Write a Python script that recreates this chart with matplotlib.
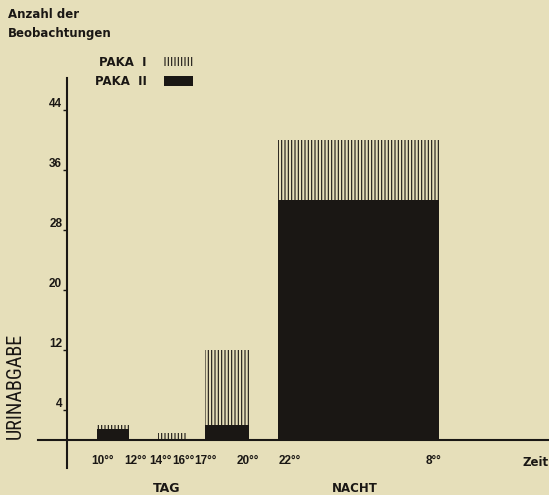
import matplotlib
matplotlib.use('Agg')
import matplotlib.pyplot as plt
from matplotlib.patches import Patch
from matplotlib import font_manager

# data
periods = ['10-12', '14-16', '17-20', '22-8']
paka2 = [1.5, 0, 2, 32]            # black part (bottom)
paka1 = [0.5, 1, 10, 8]            # hatched part (on top)
time_labels = ['10°°', '12°°', '14°°', '16°°', '17°°', '20°°', '22°°', '8°°']
yticks = [4, 12, 20, 28, 36, 44]

# layout (x in pixel-like units of the 549 px wide figure)
bar_left = [97, 158, 205, 278]
bar_right = [129, 186, 249, 439]
time_pos = [103, 135, 160, 183, 205, 248, 290, 433]
px_per_unit = 7.5                  # vertical scale: 7.5 px per observation
base_px = 440                      # pixel row of the zero line

bg = '#e6dfba'
ink = '#1a1714'
wide = ['DejaVu Sans']             # wider face for the spaced-out captions
plt.rcParams['hatch.linewidth'] = 0.8
plt.rcParams['font.family'] = ['Liberation Sans', 'DejaVu Sans']

# a narrow face for the vertical label, if one is there
names = set(f.name for f in font_manager.fontManager.ttflist)
narrow = 'Liberation Sans'
for cand in ['Liberation Sans Narrow', 'DejaVu Sans Condensed', 'Roboto Condensed']:
    if cand in names:
        narrow = cand
        break

fig = plt.figure(figsize=(5.49, 4.95), dpi=100, facecolor=bg)
ax = fig.add_axes([0, 0, 1, 1])
ax.set_facecolor(bg)
ax.set_xlim(0, 549)
ax.set_ylim(-(495 - base_px) / px_per_unit, base_px / px_per_unit)

widths = [r - l for l, r in zip(bar_left, bar_right)]
ax.bar(bar_left, paka2, width=widths, align='edge', color=ink, linewidth=0)
ax.bar(bar_left, paka1, width=widths, bottom=paka2, align='edge',
       facecolor='none', edgecolor=ink, hatch='|||||', linewidth=0)

# axes lines
for s in ['top', 'right']:
    ax.spines[s].set_visible(False)
ax.spines['left'].set_position(('data', 67))
ax.spines['left'].set_bounds((base_px - 468) / px_per_unit, (base_px - 78) / px_per_unit)
ax.spines['bottom'].set_position(('data', 0))
ax.spines['bottom'].set_bounds(38, 549)
for s in ['left', 'bottom']:
    ax.spines[s].set_linewidth(1.5)
    ax.spines[s].set_color(ink)

ax.set_yticks(yticks)
ax.set_yticklabels([str(v) for v in yticks], fontsize=8.5, fontweight='bold', color=ink)
for lab in ax.get_yticklabels():
    lab.set_verticalalignment('bottom')
ax.tick_params(axis='y', direction='out', length=3, width=1, pad=0.5, color=ink)

ax.set_xticks(time_pos)
ax.set_xticklabels(time_labels, fontsize=8.5, fontweight='bold', color=ink)
ax.tick_params(axis='x', length=0, pad=11)

ax.text(536, (base_px - 463) / px_per_unit, 'Zeit', ha='center', va='center',
        fontsize=8.5, fontweight='bold', color=ink, family=wide)
ax.text(167, (base_px - 489) / px_per_unit, 'TAG', ha='center', va='center',
        fontsize=9, fontweight='bold', color=ink, family=wide)
ax.text(355, (base_px - 489) / px_per_unit, 'NACHT', ha='center', va='center',
        fontsize=8.5, fontweight='bold', color=ink, family=wide)

fig.text(8 / 549, 1 - 14 / 495, 'Anzahl der', ha='left', va='center',
         fontsize=8.5, fontweight='bold', color=ink, family=wide)
fig.text(8 / 549, 1 - 34 / 495, 'Beobachtungen', ha='left', va='center',
         fontsize=8.5, fontweight='bold', color=ink, family=wide)

fig.text(15 / 549, 1 - 386 / 495, 'URINABGABE', rotation=90, ha='center', va='center',
         fontsize=14.5 if narrow != 'Liberation Sans' else 12.5, color=ink,
         family=[narrow, 'DejaVu Sans'])

handles = [Patch(facecolor='none', edgecolor=ink, hatch='|||||', linewidth=0),
           Patch(facecolor=ink, edgecolor=ink, linewidth=0)]
leg = ax.legend(handles, ['PAKA  I', 'PAKA  II'], loc='upper left',
                bbox_to_anchor=(90 / 549, 1 - 51 / 495), markerfirst=False,
                frameon=False, handlelength=2.4, handleheight=0.85,
                handletextpad=1.5, labelspacing=0.55, borderaxespad=0,
                prop={'size': 8.5, 'weight': 'bold', 'family': wide})
for t in leg.get_texts():
    t.set_color(ink)

fig.savefig('out.png', dpi=100, facecolor=bg)
